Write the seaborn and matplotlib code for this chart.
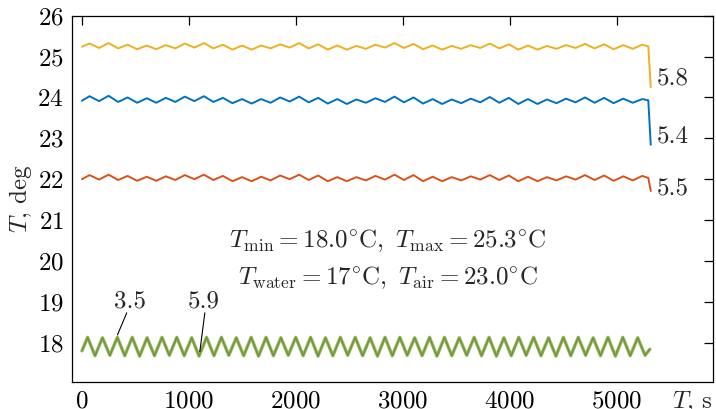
import matplotlib
matplotlib.use("Agg")
import matplotlib.pyplot as plt
import seaborn as sns
import pandas as pd

# ---------------- data ----------------
t_top = [0, 71, 160, 249, 338, 427, 516, 606, 695, 784, 873, 962, 1051, 1140, 1229,
         1318, 1407, 1497, 1586, 1675, 1764, 1853, 1942, 2031, 2120, 2209, 2298, 2388,
         2477, 2566, 2655, 2744, 2833, 2922, 3011, 3100, 3189, 3279, 3368, 3457, 3546,
         3635, 3724, 3813, 3902, 3991, 4080, 4170, 4259, 4348, 4437, 4526, 4615, 4704,
         4793, 4882, 4971, 5061, 5150, 5239, 5295, 5318]

yellow_start, yellow_end = [25.24], [25.25, 24.25]
yellow_peaks = [25.32, 25.33, 25.29, 25.27, 25.28, 25.32, 25.33, 25.29, 25.27, 25.27,
                25.30, 25.33, 25.30, 25.27, 25.26, 25.29, 25.33, 25.31, 25.27, 25.26,
                25.28, 25.32, 25.30, 25.27, 25.26, 25.28, 25.31, 25.30, 25.28, 25.29]
yellow_troughs = [25.21, 25.20, 25.18, 25.18, 25.20, 25.22, 25.20, 25.17, 25.17, 25.20,
                  25.22, 25.20, 25.17, 25.17, 25.19, 25.22, 25.21, 25.18, 25.17, 25.19,
                  25.21, 25.20, 25.17, 25.17, 25.19, 25.21, 25.20, 25.18, 25.19]

blue_start, blue_end = [23.92], [23.93, 22.84]
blue_peaks = [24.03, 24.04, 24.00, 23.98, 23.99, 24.02, 24.03, 23.99, 23.96, 23.96,
              24.00, 24.02, 23.99, 23.96, 23.95, 23.98, 24.02, 24.00, 23.96, 23.95,
              23.97, 24.01, 23.99, 23.96, 23.95, 23.97, 24.00, 23.99, 23.97, 23.96]
blue_troughs = [23.91, 23.89, 23.87, 23.87, 23.89, 23.91, 23.89, 23.86, 23.85, 23.87,
                23.90, 23.88, 23.85, 23.84, 23.87, 23.89, 23.88, 23.85, 23.84, 23.86,
                23.88, 23.87, 23.84, 23.84, 23.86, 23.88, 23.87, 23.86, 23.87]

orange_start, orange_end = [22.00], [22.03, 21.71]
orange_peaks = [22.10, 22.11, 22.08, 22.06, 22.07, 22.10, 22.11, 22.08, 22.05, 22.06,
                22.09, 22.11, 22.09, 22.05, 22.05, 22.08, 22.11, 22.10, 22.06, 22.05,
                22.07, 22.10, 22.09, 22.06, 22.05, 22.07, 22.10, 22.09, 22.07, 22.08]
orange_troughs = [21.99, 21.98, 21.96, 21.96, 21.98, 22.00, 21.98, 21.95, 21.95, 21.97,
                  22.00, 21.98, 21.95, 21.95, 21.97, 21.99, 21.98, 21.95, 21.95, 21.97,
                  21.99, 21.98, 21.95, 21.95, 21.97, 21.99, 21.98, 21.96, 21.97]

t_green = [0, 53, 122, 192, 261, 331, 400, 470, 539, 609, 678, 748, 817, 887, 956,
           1026, 1095, 1165, 1234, 1304, 1373, 1443, 1512, 1582, 1651, 1721, 1790,
           1860, 1929, 1999, 2068, 2138, 2207, 2277, 2346, 2416, 2485, 2555, 2624,
           2694, 2763, 2833, 2902, 2972, 3041, 3111, 3180, 3250, 3319, 3389, 3458,
           3528, 3597, 3667, 3736, 3806, 3875, 3945, 4014, 4084, 4153, 4223, 4292,
           4362, 4431, 4501, 4570, 4640, 4709, 4779, 4848, 4918, 4987, 5057, 5126,
           5196, 5265, 5310]
green_start, green_end = [17.80], [17.84]
green_peaks = [18.13, 18.12, 18.13, 18.13, 18.12, 18.13, 18.13, 18.12, 18.13, 18.13,
               18.12, 18.13, 18.13, 18.12, 18.13, 18.13, 18.12, 18.13, 18.13, 18.12,
               18.13, 18.13, 18.12, 18.13, 18.13, 18.12, 18.13, 18.13, 18.12, 18.13,
               18.13, 18.12, 18.13, 18.13, 18.12, 18.13, 18.13, 18.12]
green_troughs = [17.68, 17.69, 17.68, 17.67, 17.68, 17.69, 17.68, 17.67, 17.68, 17.69,
                 17.68, 17.67, 17.68, 17.69, 17.68, 17.67, 17.68, 17.69, 17.68, 17.67,
                 17.68, 17.69, 17.68, 17.67, 17.68, 17.69, 17.68, 17.67, 17.68, 17.69,
                 17.68, 17.67, 17.68, 17.69, 17.68, 17.67, 17.68, 17.69]

end_labels = ["5.8", "5.4", "5.5"]
end_label_y = [24.47, 23.04, 21.75]
green_labels = ["3.5", "5.9"]
info_line1 = r"$T_\mathrm{min} = 18.0^{\circ}\mathrm{C},\ T_\mathrm{max} = 25.3^{\circ}\mathrm{C}$"
info_line2 = r"$T_\mathrm{water} = 17^{\circ}\mathrm{C},\ T_\mathrm{air} = 23.0^{\circ}\mathrm{C}$"
x_ticks = [0, 1000, 2000, 3000, 4000, 5000]
y_ticks = [18, 19, 20, 21, 22, 23, 24, 25, 26]


def interleave(start, peaks, troughs, end):
    vals = list(start)
    for i, p in enumerate(peaks):
        vals.append(p)
        if i < len(troughs):
            vals.append(troughs[i])
    return vals + list(end)


yellow = interleave(yellow_start, yellow_peaks, yellow_troughs, yellow_end)
blue = interleave(blue_start, blue_peaks, blue_troughs, blue_end)
orange = interleave(orange_start, orange_peaks, orange_troughs, orange_end)
green = interleave(green_start, green_peaks, green_troughs, green_end)

df_top = pd.DataFrame({"t": t_top, "yellow": yellow, "blue": blue, "orange": orange})
df_green = pd.DataFrame({"t": t_green, "green": green})

# ---------------- style ----------------
sns.set_style("white")
FS = 18
plt.rcParams.update({
    "font.family": ["cmr10", "DejaVu Serif"],
    "mathtext.fontset": "cm",
    "axes.formatter.use_mathtext": True,
    "font.size": FS,
    "axes.linewidth": 0.9,
})

fig = plt.figure(figsize=(7.16, 4.09), dpi=100)
ax = fig.add_axes([72 / 716, 26.7 / 409, 641 / 716, 366.6 / 409])

C_Y, C_B, C_O, C_G, C_P = "#EDB120", "#0072BD", "#D95319", "#77AC30", "#7E2F8E"
lw = 1.4
kw = dict(ax=ax, estimator=None, sort=False, solid_joinstyle="round")
sns.lineplot(data=df_top, x="t", y="yellow", color=C_Y, lw=lw, **kw)
sns.lineplot(data=df_top, x="t", y="blue", color=C_B, lw=lw, **kw)
sns.lineplot(data=df_top, x="t", y="orange", color=C_O, lw=lw, **kw)
sns.lineplot(data=df_green, x="t", y="green", color=C_P, lw=1.1, **kw)
sns.lineplot(data=df_green, x="t", y="green", color=C_G, lw=2.4, alpha=0.8, **kw)

PAD = 5.5
ax.set_xlim(-93, 5900)
ax.set_ylim(17.03, 26)
ax.set_xticks(x_ticks)
ax.set_yticks(y_ticks)
ax.tick_params(direction="in", top=True, right=True, length=6.5, width=0.9, pad=PAD,
               labelsize=FS, colors="black")
ax.tick_params(axis="y", pad=6)
for s in ax.spines.values():
    s.set_color("black")
    s.set_visible(True)

ax.set_xlabel("")
ax.set_ylabel(r"$T$, deg", fontsize=FS)
ax.yaxis.set_label_coords(-0.059, 0.5)
ax.annotate(r"$T$, s", xy=(1, 0), xycoords="axes fraction", xytext=(0, -PAD),
            textcoords="offset points", ha="right", va="top", fontsize=FS)

for lab, yv in zip(end_labels, end_label_y):
    ax.text(5374, yv, lab, ha="left", va="center", fontsize=FS)

ax.text(2862, 20.34, info_line1, ha="center", va="baseline", fontsize=FS)
ax.text(2862, 19.42, info_line2, ha="center", va="baseline", fontsize=FS)

ax.text(450, 18.87, green_labels[0], ha="center", va="baseline", fontsize=FS)
ax.text(1142, 18.87, green_labels[1], ha="center", va="baseline", fontsize=FS)
ax.annotate("", xy=(332, 18.19), xytext=(419, 18.73),
            arrowprops=dict(arrowstyle="-", lw=0.8, color="black", shrinkA=0, shrinkB=0))
ax.annotate("", xy=(1102, 17.78), xytext=(1149, 18.73),
            arrowprops=dict(arrowstyle="-", lw=0.8, color="black", shrinkA=0, shrinkB=0))

fig.savefig("out.png", dpi=100)
